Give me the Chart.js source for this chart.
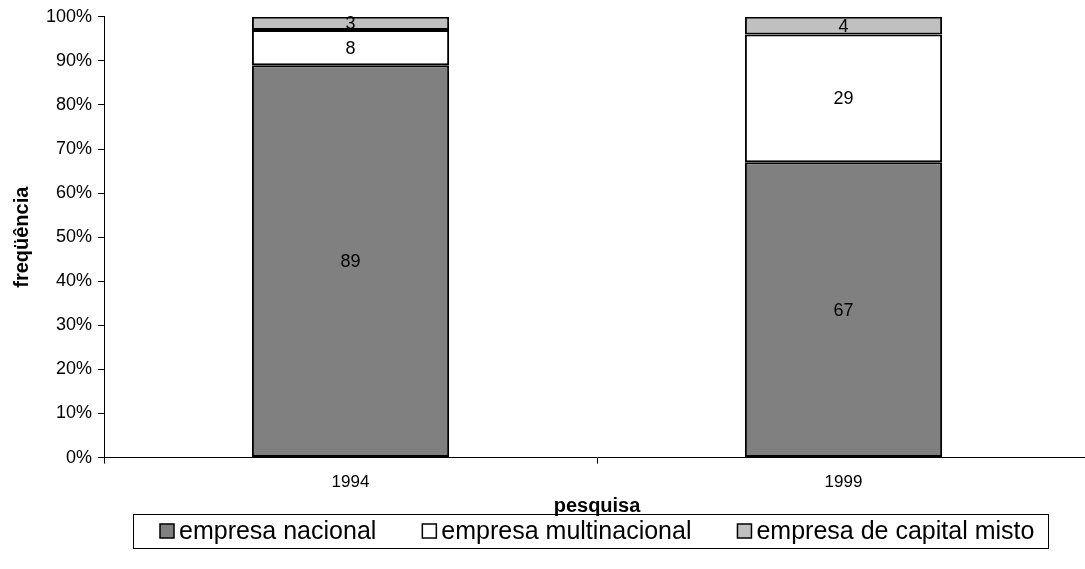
<!DOCTYPE html>
<html>
<head>
<meta charset="utf-8">
<script src="https://cdn.jsdelivr.net/npm/chart.js@4/dist/chart.umd.min.js"></script>
<style>
  html, body { margin: 0; padding: 0; background: #fff; overflow: hidden; }
  #wrap { width: 1090px; height: 569px; }
</style>
</head>
<body>
<div id="wrap"><canvas id="chart"></canvas></div>
<script>
const years = ['1994', '1999'];
const nacional = [89, 67];
const multinacional = [8, 29];
const capitalMisto = [3, 4];

const font = 'Arial, "Liberation Sans", sans-serif';

// numbers in the middle of each segment
const segmentLabels = {
  id: 'segmentLabels',
  afterDatasetsDraw(chart) {
    const ctx = chart.ctx;
    ctx.save();
    ctx.font = '18px ' + font;
    ctx.fillStyle = '#000';
    ctx.textAlign = 'center';
    ctx.textBaseline = 'middle';
    chart.data.datasets.forEach((ds, i) => {
      chart.getDatasetMeta(i).data.forEach((bar, j) => {
        const p = bar.getCenterPoint();
        ctx.fillText(ds.data[j], p.x, p.y + 1);
      });
    });
    ctx.restore();
  }
};

// boxed legend under the axis title, centred on the plot area
const boxedLegend = {
  id: 'boxedLegend',
  afterDraw(chart) {
    const ctx = chart.ctx;
    const sets = chart.data.datasets;
    const sq = 14, gap = 5, itemGap = 46;
    ctx.save();
    ctx.font = '25px ' + font;
    const widths = sets.map(d => ctx.measureText(d.label).width);
    const total = widths.reduce((a, w) => a + w + sq + gap, 0) + itemGap * (sets.length - 1);
    const area = chart.chartArea;
    let x = Math.round((area.left + area.right) / 2 - total / 2);
    const top = chart.height - 55, bottom = chart.height - 21;
    const cy = (top + bottom) / 2;

    ctx.strokeStyle = '#000';
    ctx.lineWidth = 1;
    ctx.strokeRect(x - 27 + 0.5, top + 0.5, Math.round(total + 41), bottom - top);

    ctx.textBaseline = 'middle';
    sets.forEach((d, i) => {
      ctx.fillStyle = d.backgroundColor;
      ctx.fillRect(x, Math.round(cy - sq / 2), sq, sq);
      ctx.lineWidth = 1.5;
      ctx.strokeRect(x, Math.round(cy - sq / 2), sq, sq);
      ctx.fillStyle = '#000';
      ctx.fillText(d.label, x + sq + gap, cy + 1);
      x += sq + gap + widths[i] + itemGap;
    });
    ctx.restore();
  }
};

new Chart(document.getElementById('chart'), {
  type: 'bar',
  data: {
    labels: years,
    datasets: [
      { label: 'empresa nacional', data: nacional, backgroundColor: '#808080' },
      { label: 'empresa multinacional', data: multinacional, backgroundColor: '#ffffff' },
      { label: 'empresa de capital misto', data: capitalMisto, backgroundColor: '#c0c0c0' }
    ].map(d => Object.assign(d, {
      borderColor: '#000',
      borderWidth: 2,
      borderSkipped: false,
      categoryPercentage: 1,
      barPercentage: 0.4
    }))
  },
  options: {
    responsive: true,
    maintainAspectRatio: false,
    animation: false,
    layout: { padding: { left: 10, top: 7, right: 0, bottom: 51 } },
    plugins: {
      tooltip: { enabled: false },
      legend: { display: false }
    },
    scales: {
      x: {
        stacked: true,
        grid: { drawOnChartArea: false, tickLength: 6, color: '#000' },
        border: { color: '#000', width: 1 },
        ticks: { color: '#000', font: { family: font, size: 17 }, padding: 9 },
        title: { display: true, text: 'pesquisa', color: '#000', font: { family: font, size: 20, weight: 'bold' }, padding: { top: -8, bottom: 0 } }
      },
      y: {
        stacked: true,
        min: 0,
        max: 100,
        grid: { drawOnChartArea: false, tickLength: 6, color: '#000' },
        border: { color: '#000', width: 1 },
        ticks: {
          stepSize: 10,
          color: '#000',
          font: { family: font, size: 18 },
          padding: 6,
          callback: v => v + '%'
        },
        title: { display: true, text: 'freqüência', color: '#000', font: { family: font, size: 20, weight: 'bold' }, padding: { top: 0, bottom: 6 } }
      }
    }
  },
  plugins: [segmentLabels, boxedLegend]
});
</script>
</body>
</html>
